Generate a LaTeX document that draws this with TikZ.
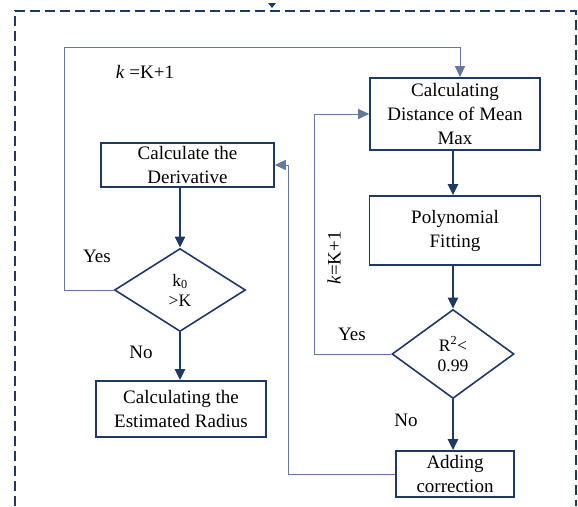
\documentclass[tikz,border=0pt]{standalone}
\usepackage{fontspec}
\setmainfont{Liberation Serif}
\usetikzlibrary{arrows.meta,shapes.geometric}
\definecolor{navy}{RGB}{31,56,100}
\definecolor{loopblue}{RGB}{100,120,160}

\begin{document}
\begin{tikzpicture}[x=1pt,y=-1pt,
    >={Triangle[length=11pt,width=10pt]},
    box/.style={draw=navy,line width=1.6pt,align=center,inner sep=0pt,font=\fontsize{19}{24}\selectfont},
    test/.style={draw=navy,line width=1.6pt,diamond,align=center,inner sep=0pt,font=\fontsize{17.5}{20}\selectfont},
    flow/.style={->,draw=navy,line width=2.4pt},
    back/.style={->,draw=loopblue,line width=1pt},
    lbl/.style={font=\fontsize{19}{24}\selectfont}]
    \useasboundingbox (0,0) rectangle (578,506);
    \draw[navy,line width=1.6pt,dash pattern=on 10pt off 5pt] (15,506) -- (15,11) -- (576,11) -- (576,506);
    \fill[navy] (268,3) -- (276,3) -- (272,8) -- cycle;

    \node[box,minimum width=170pt,minimum height=72pt] (dist) at (455,114) {Calculating\\Distance of Mean\\Max};
    \node[box,minimum width=171pt,minimum height=69pt] (poly) at (455,230.5) {Polynomial\\Fitting};
    \node[test,minimum width=122pt,minimum height=89pt] (rtest) at (453,354) {R\textsuperscript{2}<\\0.99};
    \node[box,minimum width=118pt,minimum height=46pt] (corr) at (455,474) {Adding\\correction};
    \node[box,minimum width=173pt,minimum height=44pt] (deriv) at (187.5,165) {Calculate the\\Derivative};
    \node[test,minimum width=131pt,minimum height=83pt] (ktest) at (180,290) {k\textsubscript{0}\\>K};
    \node[box,minimum width=170pt,minimum height=56pt] (radius) at (181,409) {Calculating the\\Estimated Radius};

    \coordinate (topleft) at (64,47);
    \coordinate (rloop) at (314,114);
    \coordinate (mloop) at (288,165);

    \draw[flow] (rtest.north |- dist.south) -- (rtest.north |- poly.north);
    \draw[flow] (rtest.north |- poly.south) -- (rtest.north);
    \draw[flow] (rtest.south) -- (rtest.south |- corr.north);
    \draw[flow] (ktest.north |- deriv.south) -- (ktest.north);
    \draw[flow] (ktest.south) -- (ktest.south |- radius.north);
    \draw[back] (ktest.west) -| (topleft) -| ([xshift=5pt]dist.north);
    \draw[back] (rtest.west) -| (rloop) -- (dist.west);
    \draw[back] (corr.west) -| (mloop) -- (deriv.east);

    \node[lbl] (kinc) at (145,72) {\textit{k} =K+1};
    \node[lbl,rotate=90] (kincr) at (334,258) {\textit{k}=K+1};
    \node[lbl] (yesk) at (97,256) {Yes};
    \node[lbl] (nok) at (141,352) {No};
    \node[lbl] (yesr) at (352,334) {Yes};
    \node[lbl] (nor) at (406,420) {No};
\end{tikzpicture}
\end{document}
